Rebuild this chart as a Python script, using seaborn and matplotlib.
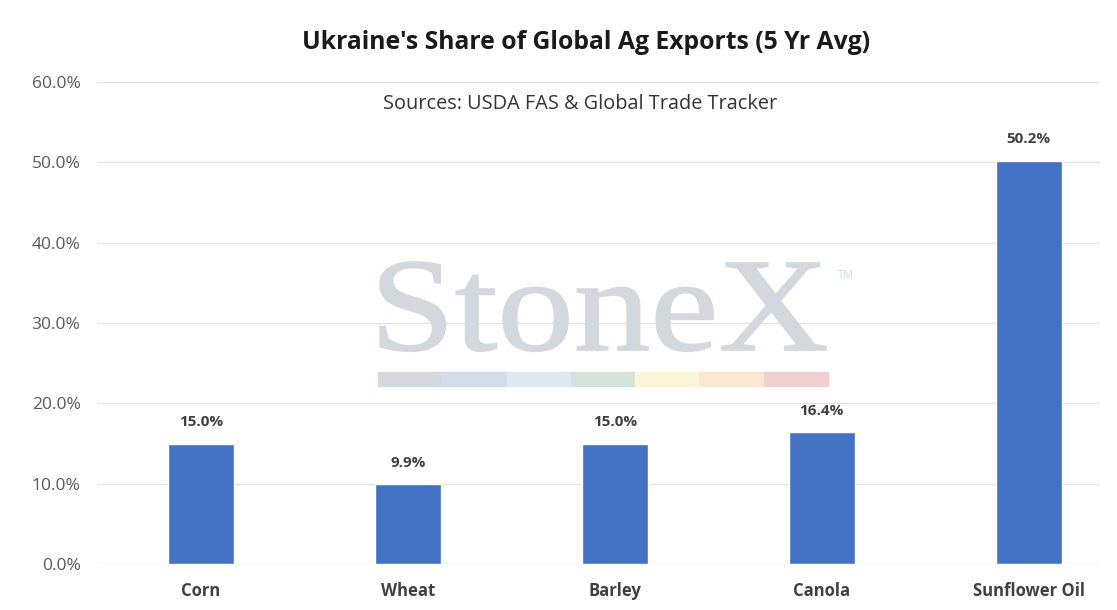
import matplotlib
matplotlib.use("Agg")
import matplotlib.pyplot as plt
import matplotlib.patches as mpatches
from matplotlib.textpath import TextPath
from matplotlib.font_manager import FontProperties
from matplotlib.transforms import Affine2D
import seaborn as sns
import pandas as pd

# Data
crops = ["Corn", "Wheat", "Barley", "Canola", "Sunflower Oil"]
shares = [15.0, 9.9, 15.0, 16.4, 50.2]
yticks = [0, 10, 20, 30, 40, 50, 60]

df = pd.DataFrame({"Crop": crops, "Share": shares})

sns.set_theme(style="white")
plt.rcParams["font.family"] = ["Open Sans", "DejaVu Sans"]

fig = plt.figure(figsize=(11.17, 6.10), dpi=100)
ax = fig.add_axes([0.087, 0.0754, 0.898, 0.79])

# Watermark behind bars, stretched to fit the logo box (pixel coords)
wm_color = "#d3d8de"
tp = TextPath((0, 0), "StoneX", size=1, prop=FontProperties(family="Liberation Serif"))
ext = tp.get_extents()
sx = (826 - 380) / ext.width
sy = (350 - 262) / ext.y1
tr = Affine2D().translate(-ext.x0, 0).scale(sx, sy).translate(380, 610 - 350)
wm = mpatches.PathPatch(tr.transform_path(tp), facecolor=wm_color, edgecolor=wm_color,
                        linewidth=1.2, transform=None, zorder=0)
fig.patches.append(wm)
fig.text(0.750, 1 - 276 / 610, "TM", fontsize=8, color=wm_color, ha="left", va="center")
band_colors = ["#d3d8df", "#d4dceb", "#dde8f2", "#d5e2db", "#faf4d8", "#fbe6d2", "#f0d0cf"]
x0, w = 378 / 1117, (828 - 378) / 1117 / len(band_colors)
for i, c in enumerate(band_colors):
    fig.patches.append(mpatches.Rectangle((x0 + i * w, 1 - 386 / 610), w, 14 / 610,
                                          transform=fig.transFigure, color=c, zorder=0))

ax.set_facecolor("none")
sns.barplot(data=df, x="Crop", y="Share", color="#4472C4", width=0.32,
            saturation=1, ax=ax, zorder=3)

for i, v in enumerate(shares):
    ax.text(i, v + 1.8, f"{v:.1f}%", ha="center", va="bottom", fontsize=11,
            fontweight="bold", color="#404040")

ax.set_ylim(0, 60)
ax.set_xlim(-0.5, 4.345)
ax.set_yticks(yticks)
ax.set_yticklabels([f"{t:.1f}%" for t in yticks], color="#595959", fontsize=12.5)
ax.tick_params(axis="x", labelsize=12, colors="#404040", length=0, pad=13)
ax.tick_params(axis="y", length=0, pad=12)
for lbl in ax.get_xticklabels():
    lbl.set_fontweight("bold")
ax.yaxis.grid(True, color="#e3e3e3", linewidth=1, zorder=0)
for s in ax.spines.values():
    s.set_visible(False)
ax.set_xlabel("")
ax.set_ylabel("")

fig.text(0.525, 0.931, "Ukraine's Share of Global Ag Exports (5 Yr Avg)",
         ha="center", va="center", fontsize=17.8, fontweight="bold", color="#1a1a1a")
fig.text(0.519, 0.829, "Sources: USDA FAS & Global Trade Tracker",
         ha="center", va="center", fontsize=14.3, color="#333333")

fig.savefig("out.png", dpi=100, facecolor="white")
